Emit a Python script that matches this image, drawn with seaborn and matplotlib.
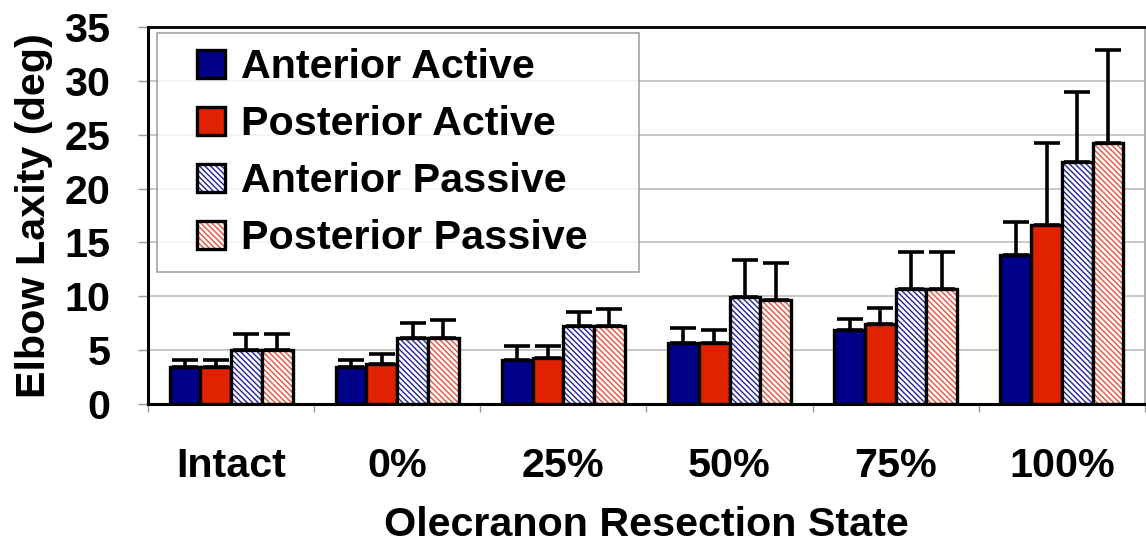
import pandas as pd
import matplotlib
matplotlib.use("Agg")
import matplotlib.pyplot as plt
import numpy as np
import seaborn as sns
from matplotlib.patches import Rectangle
from matplotlib.legend_handler import HandlerPatch
from matplotlib.ticker import FixedLocator
from matplotlib.colors import to_rgba

states = ["Intact", "0%", "25%", "50%", "75%", "100%"]
conditions = ["Anterior Active", "Posterior Active", "Anterior Passive", "Posterior Passive"]

ant_active = [3.45, 3.45, 4.1, 5.7, 6.85, 13.8]
post_active = [3.45, 3.7, 4.3, 5.65, 7.4, 16.6]
ant_passive = [5.05, 6.1, 7.2, 9.95, 10.7, 22.5]
post_passive = [5.05, 6.1, 7.25, 9.7, 10.7, 24.2]

ant_active_sd = [0.65, 0.65, 1.3, 1.4, 1.0, 3.1]
post_active_sd = [0.65, 0.95, 1.1, 1.25, 1.5, 7.65]
ant_passive_sd = [1.45, 1.4, 1.35, 3.45, 3.4, 6.5]
post_passive_sd = [1.45, 1.7, 1.6, 3.4, 3.4, 8.7]

means = [ant_active, post_active, ant_passive, post_passive]
sds = [ant_active_sd, post_active_sd, ant_passive_sd, post_passive_sd]

fill_colors = ["#000088", "#e02200", "white", "white"]
hatch_colors = [None, None, "#22229a", "#e8503c"]

df = pd.DataFrame({
    "state": np.tile(states, len(conditions)),
    "condition": np.repeat(conditions, len(states)),
    "laxity": np.concatenate(means),
})

sns.set_style("white")
plt.rcParams["font.family"] = ["Liberation Sans", "DejaVu Sans"]
plt.rcParams["font.weight"] = "bold"
plt.rcParams["text.color"] = "black"
plt.rcParams["axes.labelcolor"] = "black"
plt.rcParams["hatch.linewidth"] = 1.0

fig = plt.figure(figsize=(11.46, 5.42), dpi=100)
ax = fig.add_axes([0.1291, 0.2546, 0.870, 0.6956])

sns.barplot(data=df, x="state", y="laxity", hue="condition", order=states,
            hue_order=conditions, palette=dict(zip(conditions, fill_colors)),
            width=0.74, errorbar=None, saturation=1, edgecolor="black",
            linewidth=2.4, legend=False, ax=ax)

bar_containers = list(ax.containers)
for i, cont in enumerate(bar_containers):
    xs = []
    ys = []
    for bar in cont.patches:
        if hatch_colors[i] is not None:
            bar.set_facecolor("white")
            bar.set_hatch("\\" * 6)
            if hasattr(bar, "set_hatchcolor"):
                bar.set_hatchcolor(hatch_colors[i])
            else:
                bar._hatch_color = to_rgba(hatch_colors[i])
        xs.append(bar.get_x() + bar.get_width() / 2)
        ys.append(bar.get_height())
    ax.errorbar(xs, ys, yerr=[np.zeros(len(ys)), sds[i]], fmt="none",
                ecolor="black", elinewidth=2.6, capsize=9.5, capthick=2.6,
                zorder=1)


def square_handle(legend, orig_handle, xdescent, ydescent, width, height, fontsize):
    return Rectangle((-xdescent + width - height, -ydescent), height, height)


handles = [c.patches[0] for c in bar_containers]
leg = ax.legend(handles, conditions, loc="upper left",
                bbox_to_anchor=(0.009, 0.884, 0.4835, 0.1), mode="expand",
                borderaxespad=0, borderpad=0.37, labelspacing=0.46,
                handlelength=1.27, handleheight=0.66, handletextpad=0.39,
                fontsize=29.7, frameon=True, fancybox=False,
                handler_map={Rectangle: HandlerPatch(patch_func=square_handle)})
leg.get_frame().set_edgecolor("#8c8c8c")
leg.get_frame().set_linewidth(1.2)
for t in leg.get_texts():
    t.set_fontweight("bold")
    t.set_color("black")

ax.set_ylim(0, 35)
ax.set_xlim(-0.5, len(states) - 0.5)
ax.set_yticks(np.arange(0, 36, 5))
ax.yaxis.grid(True, color="#c4c4c4", linewidth=1.3)
ax.set_axisbelow(True)

ax.tick_params(axis="y", which="major", direction="out", length=7, width=1,
               color="#999999", labelcolor="black", pad=20, labelsize=29.7,
               left=True)
ax.tick_params(axis="x", which="major", length=0, pad=31, labelsize=29.7,
               labelcolor="black")
ax.xaxis.set_minor_locator(FixedLocator(np.arange(-0.5, len(states), 1.0)))
ax.tick_params(axis="x", which="minor", direction="out", length=6, width=1,
               color="#999999", bottom=True)
for lab in ax.get_xticklabels() + ax.get_yticklabels():
    lab.set_fontweight("bold")

ax.set_xlabel("Olecranon Resection State", fontsize=29.7, fontweight="bold",
              labelpad=15, color="black")
ax.set_ylabel("Elbow Laxity (deg)", fontsize=29.7, fontweight="bold",
              labelpad=8, color="black")

for side in ["left", "bottom", "top"]:
    ax.spines[side].set_visible(True)
    ax.spines[side].set_color("black")
ax.spines["left"].set_linewidth(2.2)
ax.spines["bottom"].set_linewidth(2.2)
ax.spines["top"].set_linewidth(2.0)
ax.spines["right"].set_visible(True)
ax.spines["right"].set_color("#a0a0a0")
ax.spines["right"].set_linewidth(1.2)

fig.savefig("out.png", dpi=100)
